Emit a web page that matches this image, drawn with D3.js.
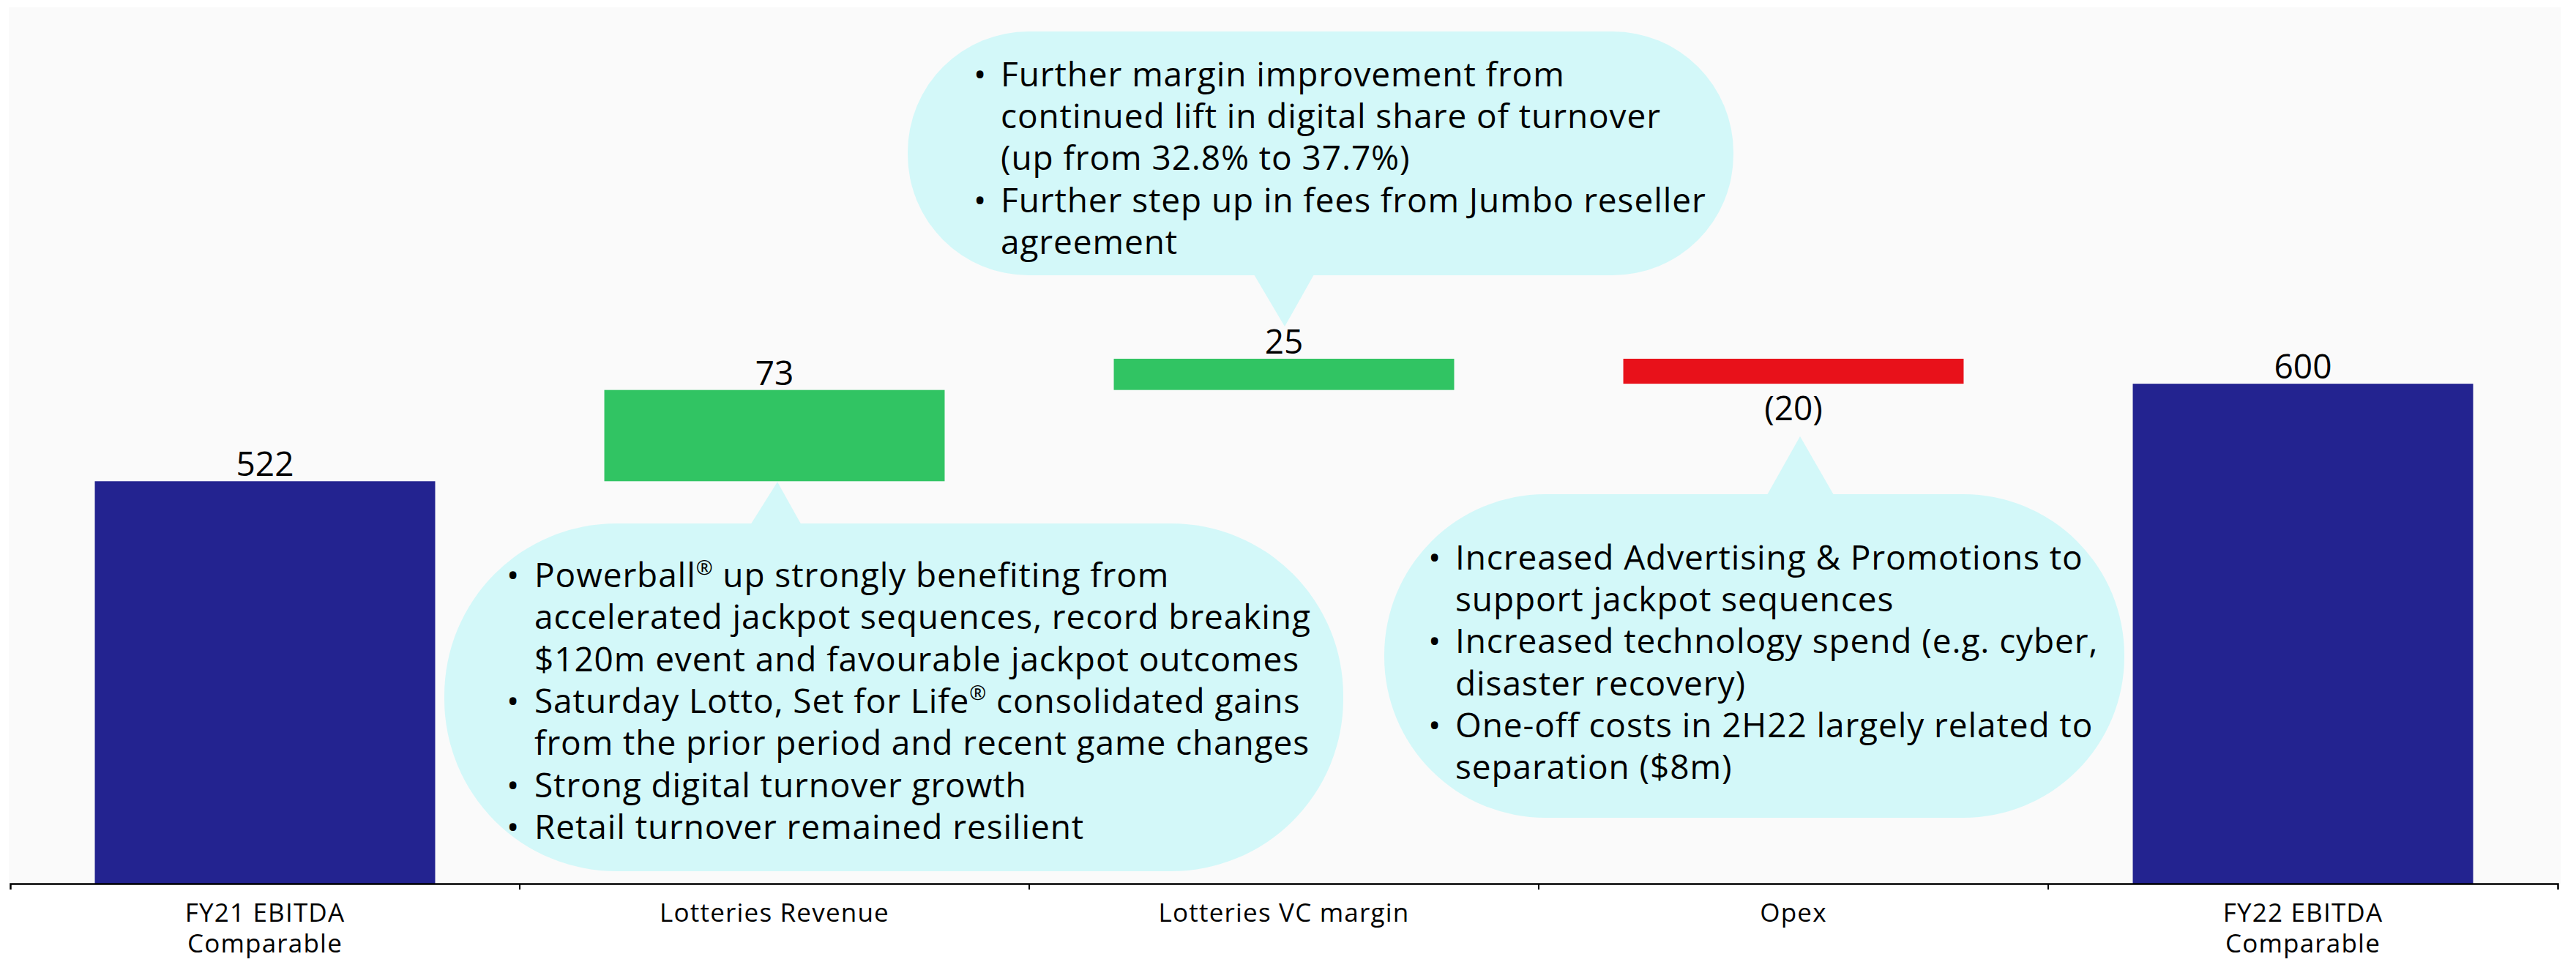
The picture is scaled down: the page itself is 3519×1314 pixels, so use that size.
<!DOCTYPE html>
<html>
<head>
<meta charset="utf-8">
<script src="https://cdn.jsdelivr.net/npm/d3@7"></script>
<style>
  html, body { margin: 0; padding: 0; background: #ffffff; }
  svg { display: block; }
  text { font-family: "Open Sans", Roboto, sans-serif; fill: #000; }
</style>
</head>
<body>
<div id="chart"></div>
<script>
// ---------- DATA ----------
const categories = [
  ["FY21 EBITDA", "Comparable"],
  ["Lotteries Revenue"],
  ["Lotteries VC margin"],
  ["Opex"],
  ["FY22 EBITDA", "Comparable"]
];
const values = [522, 73, 25, -20, 600];
const kinds = ["total", "delta", "delta", "delta", "total"];
const valueLabels = ["522", "73", "25", "(20)", "600"];
const yDomain = [200, 620];

// callout texts: each bullet is an array of lines; "®" rendered as superscript
const calloutRevenue = [
  ["Powerball® up strongly benefiting from",
   "accelerated jackpot sequences, record breaking",
   "$120m event and favourable jackpot outcomes"],
  ["Saturday Lotto, Set for Life® consolidated gains",
   "from the prior period and recent game changes"],
  ["Strong digital turnover growth"],
  ["Retail turnover remained resilient"]
];
const calloutMargin = [
  ["Further margin improvement from",
   "continued lift in digital share of turnover",
   "(up from 32.8% to 37.7%)"],
  ["Further step up in fees from Jumbo reseller",
   "agreement"]
];
const calloutOpex = [
  ["Increased Advertising & Promotions to",
   "support jackpot sequences"],
  ["Increased technology spend (e.g. cyber,",
   "disaster recovery)"],
  ["One-off costs in 2H22 largely related to",
   "separation ($8m)"]
];

// ---------- LAYOUT ----------
const W = 3519, H = 1314;
const plot = { left: 14, right: 3494, top: 490, bottom: 1207 };
const colors = { total: "#232390", up: "#31C463", down: "#E8111A", bubble: "#D3F8F9", bg: "#FAFAFA" };

const svg = d3.select("#chart").append("svg").attr("width", W).attr("height", H);

svg.append("rect").attr("x", 12).attr("y", 10).attr("width", 3486).attr("height", plot.bottom - 10)
  .attr("fill", colors.bg);

const idx = d3.range(categories.length);
const x = d3.scaleBand().domain(idx).range([plot.left, plot.right])
  .paddingInner(0.332).paddingOuter(0.166);
const y = d3.scaleLinear().domain(yDomain).range([plot.bottom, plot.top]);

// waterfall computation
let running = 0;
const bars = values.map((v, i) => {
  let start, end;
  if (kinds[i] === "total") { start = yDomain[0]; end = v; running = v; }
  else { start = running; end = running + v; running = end; }
  return { i, v, start, end, kind: kinds[i] };
});

// ---------- CALLOUTS ----------
function drawCallout(box, pointer, bullets, tp) {
  const g = svg.append("g");
  const r = Math.min(box.r, box.h / 2);
  g.append("rect").attr("x", box.x).attr("y", box.y).attr("width", box.w).attr("height", box.h)
    .attr("rx", r).attr("ry", r).attr("fill", colors.bubble);
  g.append("path").attr("d", d3.line()(pointer)).attr("fill", colors.bubble);
  let li = 0;
  bullets.forEach(lines => {
    lines.forEach((line, k) => {
      const by = tp.y + li * tp.dy;
      if (k === 0) {
        g.append("text").attr("x", tp.bx).attr("y", by).attr("font-size", tp.fs).text("•");
      }
      const t = g.append("text").attr("x", tp.tx).attr("y", by).attr("font-size", tp.fs)
        .attr("letter-spacing", tp.ls);
      const parts = line.split("®");
      const shift = tp.fs * 0.38;
      parts.forEach((p, pi) => {
        const s = t.append("tspan").text(p);
        if (pi > 0) s.attr("dy", shift);
        if (pi < parts.length - 1) {
          t.append("tspan").attr("font-size", tp.fs * 0.6).attr("dy", -shift).text("®");
        }
      });
      li++;
    });
  });
}

const fsBubble = 46, lsBubble = 0.9;
// Lotteries Revenue callout (below bar 2)
{
  const cx = x(1) + x.bandwidth() / 2;
  const b = bars[1];
  drawCallout({ x: 607, y: 715, w: 1228, h: 475, r: 235 },
    [[cx - 32, 715.5], [cx + 4, y(b.start) + 1], [cx + 36, 715.5]],
    calloutRevenue, { bx: 692, tx: 730, y: 802, dy: 57.3, fs: fsBubble, ls: lsBubble });
}
// Lotteries VC margin callout (above bar 3)
{
  const cx = x(2) + x.bandwidth() / 2;
  drawCallout({ x: 1240, y: 43, w: 1128, h: 333, r: 165 },
    [[cx - 41, 375], [cx + 1, 446], [cx + 41, 375]],
    calloutMargin, { bx: 1330, tx: 1367, y: 118, dy: 57.2, fs: fsBubble, ls: lsBubble });
}
// Opex callout (below bar 4)
{
  const cx = x(3) + x.bandwidth() / 2;
  drawCallout({ x: 1891, y: 675, w: 1011, h: 442, r: 220 },
    [[cx - 36, 676], [cx + 9, 596], [cx + 55, 676]],
    calloutOpex, { bx: 1951, tx: 1988, y: 778, dy: 57.2, fs: fsBubble, ls: lsBubble });
}

// ---------- BARS ----------
svg.append("g").selectAll("rect").data(bars).join("rect")
  .attr("x", d => x(d.i))
  .attr("width", x.bandwidth())
  .attr("y", d => y(Math.max(d.start, d.end)))
  .attr("height", d => Math.abs(y(d.start) - y(d.end)))
  .attr("fill", d => d.kind === "total" ? colors.total : (d.v >= 0 ? colors.up : colors.down));

// value labels
svg.append("g").selectAll("text").data(bars).join("text")
  .attr("x", d => x(d.i) + x.bandwidth() / 2)
  .attr("y", d => d.v >= 0 ? y(Math.max(d.start, d.end)) - 7 : y(Math.min(d.start, d.end)) + 50)
  .attr("text-anchor", "middle")
  .attr("font-size", 46)
  .text((d, i) => valueLabels[i]);

// ---------- AXIS ----------
const axis = d3.axisBottom(x).tickSizeInner(0).tickSizeOuter(8).tickFormat("");
const ax = svg.append("g").attr("transform", `translate(0,${plot.bottom})`).call(axis);
ax.select(".domain").attr("stroke", "#000").attr("stroke-width", 2.5).attr("fill", "none");
ax.selectAll(".tick line").remove();
const boundaries = idx.slice(1).map(i => x(i) - x.step() * x.paddingInner() / 2);
ax.selectAll("line.bound").data(boundaries).join("line").attr("class", "bound")
  .attr("x1", d => d).attr("x2", d => d).attr("y1", 0).attr("y2", 8)
  .attr("stroke", "#000").attr("stroke-width", 2);

// category labels
const catG = svg.append("g");
categories.forEach((lines, i) => {
  const cx = x(i) + x.bandwidth() / 2;
  const t = catG.append("text").attr("x", cx).attr("y", 1259)
    .attr("text-anchor", "middle").attr("font-size", 35).attr("letter-spacing", 1.2);
  lines.forEach((l, k) => {
    t.append("tspan").attr("x", cx).attr("dy", k === 0 ? 0 : 42).text(l);
  });
});
</script>
</body>
</html>
